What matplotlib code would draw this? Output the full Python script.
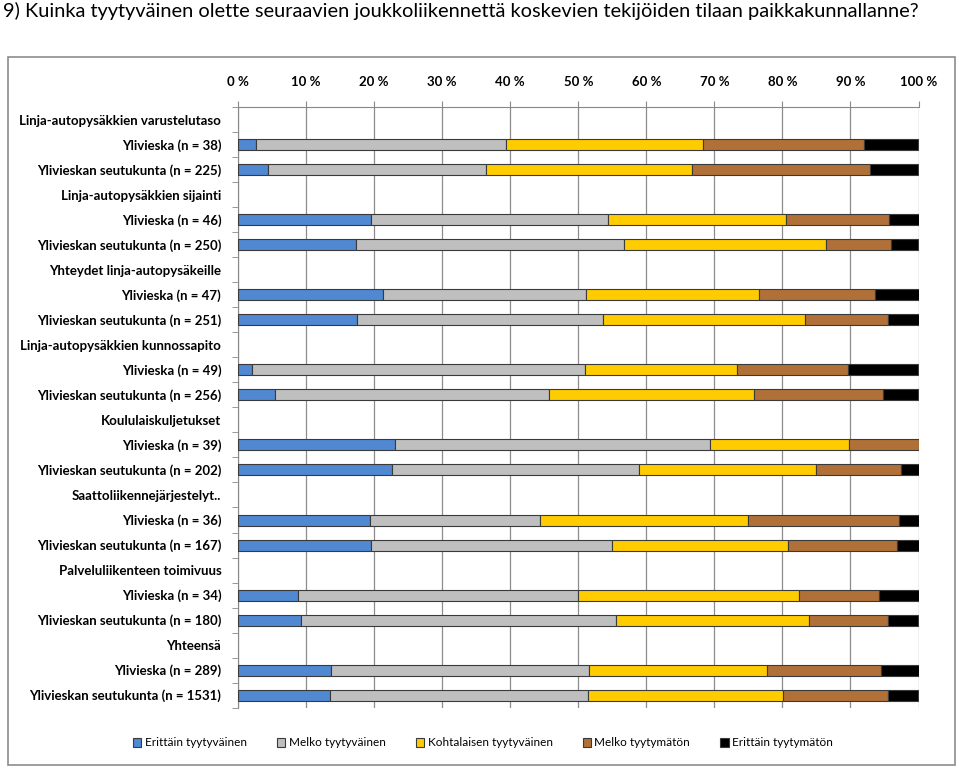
import matplotlib
matplotlib.use("Agg")
import matplotlib.pyplot as plt
import numpy as np
from matplotlib.patches import Rectangle

plt.rcParams['font.family'] = ['Lato', 'DejaVu Sans']

# ---------------------------------------------------------------------------
# Data (percent)
# ---------------------------------------------------------------------------
labels = [
    "Linja-autopysäkkien varustelutaso",
    "Ylivieska (n = 38)",
    "Ylivieskan seutukunta (n = 225)",
    "Linja-autopysäkkien sijainti",
    "Ylivieska (n = 46)",
    "Ylivieskan seutukunta (n = 250)",
    "Yhteydet linja-autopysäkeille",
    "Ylivieska (n = 47)",
    "Ylivieskan seutukunta (n = 251)",
    "Linja-autopysäkkien kunnossapito",
    "Ylivieska (n = 49)",
    "Ylivieskan seutukunta (n = 256)",
    "Koululaiskuljetukset",
    "Ylivieska (n = 39)",
    "Ylivieskan seutukunta (n = 202)",
    "Saattoliikennejärjestelyt..",
    "Ylivieska (n = 36)",
    "Ylivieskan seutukunta (n = 167)",
    "Palveluliikenteen toimivuus",
    "Ylivieska (n = 34)",
    "Ylivieskan seutukunta (n = 180)",
    "Yhteensä",
    "Ylivieska (n = 289)",
    "Ylivieskan seutukunta (n = 1531)",
]

# header rows have no bars (0 in every series)
erittain_tyyt = [0, 2.6, 4.4, 0, 19.6, 17.4, 0, 21.3, 17.5, 0, 2.0, 5.4,
                 0, 23.1, 22.7, 0, 19.4, 19.6, 0, 8.8, 9.3, 0, 13.7, 13.5]
melko_tyyt = [0, 36.8, 32.1, 0, 34.8, 39.3, 0, 29.8, 36.2, 0, 49.0, 40.3,
              0, 46.2, 36.2, 0, 25.0, 35.4, 0, 41.2, 46.3, 0, 37.9, 38.0]
kohtalaisen = [0, 28.9, 30.2, 0, 26.1, 29.7, 0, 25.5, 29.6, 0, 22.4, 30.1,
               0, 20.5, 26.1, 0, 30.6, 25.8, 0, 32.4, 28.3, 0, 26.2, 28.6]
melko_tyytym = [0, 23.7, 26.2, 0, 15.2, 9.6, 0, 17.0, 12.2, 0, 16.3, 19.0,
                0, 10.3, 12.4, 0, 22.2, 16.0, 0, 11.8, 11.6, 0, 16.7, 15.4]
erittain_tyytym = [0, 7.9, 7.1, 0, 4.3, 4.0, 0, 6.4, 4.5, 0, 10.2, 5.2,
                   0, 0.0, 2.6, 0, 2.8, 3.2, 0, 5.9, 4.5, 0, 5.5, 4.5]

series_names = ["Erittäin tyytyväinen", "Melko tyytyväinen", "Kohtalaisen tyytyväinen",
                "Melko tyytymätön", "Erittäin tyytymätön"]
series_values = [erittain_tyyt, melko_tyyt, kohtalaisen, melko_tyytym, erittain_tyytym]
colors = ["#5188D2", "#BFBFBF", "#FFCC00", "#B07038", "#000000"]

title = "9) Kuinka tyytyväinen olette seuraavien joukkoliikennettä koskevien tekijöiden tilaan paikkakunnallanne?"

# ---------------------------------------------------------------------------
# Figure
# ---------------------------------------------------------------------------
fig = plt.figure(figsize=(9.59, 7.70), dpi=100)
fig.text(0.003, 0.998, title, ha='left', va='top', fontsize=14.4, color='black')

# outer chart frame
fig.patches.append(Rectangle((8 / 959, 1 - 765 / 770), 947 / 959, 708 / 770,
                             transform=fig.transFigure, fill=False,
                             edgecolor='#8C8C8C', linewidth=1.2))

ax = fig.add_axes([238 / 959, 1 - 707.5 / 770, 680.5 / 959, 600 / 770])

y = np.arange(len(labels))
left = np.zeros(len(labels))
for name, vals, col in zip(series_names, series_values, colors):
    vals = np.array(vals)
    mask = vals > 0
    ax.barh(y[mask], vals[mask], left=left[mask], height=0.44, color=col,
            edgecolor='#3A3A3A', linewidth=0.8, label=name, zorder=3)
    left += vals

ax.set_xlim(0, 100)
ax.set_ylim(len(labels) - 0.5, -0.5)
ax.set_xticks(np.arange(0, 101, 10))
ax.set_xticklabels([f"{v} %" for v in range(0, 101, 10)], fontsize=9.5, fontweight='bold')
ax.xaxis.tick_top()
ax.tick_params(axis='x', length=4, color='#888888', pad=10)
ax.set_yticks(y)
ax.set_yticklabels(labels, fontsize=9.5, fontweight='bold')
ax.set_yticks(np.arange(-0.5, len(labels), 1), minor=True)
ax.tick_params(axis='y', which='major', length=0, pad=12)
ax.tick_params(axis='y', which='minor', length=4, color='#888888')
ax.grid(axis='x', color='#8C8C8C', linewidth=0.9, zorder=0)
for side in ['bottom', 'right']:
    ax.spines[side].set_visible(False)
for side in ['top', 'left']:
    ax.spines[side].set_color('#888888')

handles, lbls = ax.get_legend_handles_labels()
fig.legend(handles, lbls, loc='center', bbox_to_anchor=(483 / 959, 1 - 743 / 770),
           ncol=5, frameon=False, fontsize=8.5, handlelength=0.7, handleheight=0.7,
           columnspacing=2.55, handletextpad=0.3)

fig.savefig("out.png", dpi=100)
